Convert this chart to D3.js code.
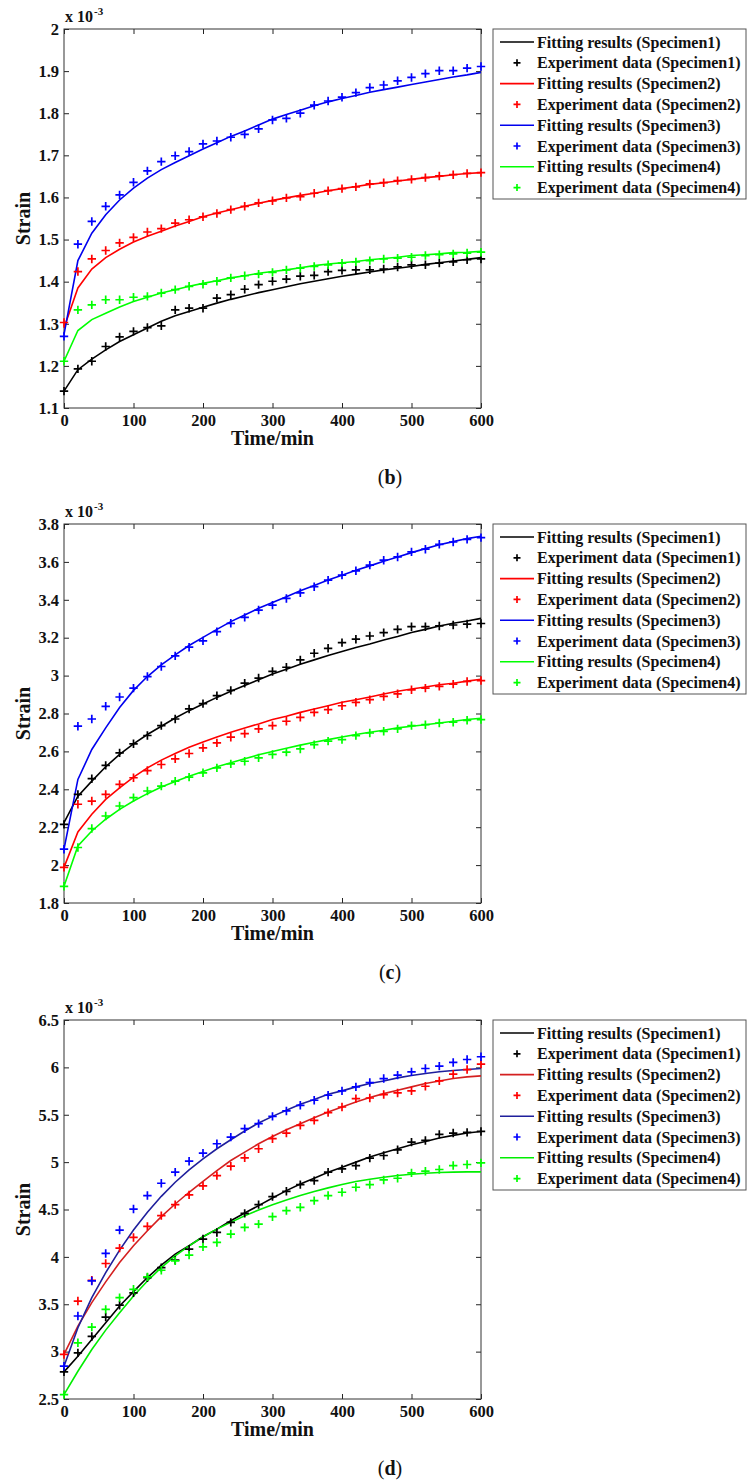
<!DOCTYPE html>
<html>
<head>
<meta charset="utf-8">
<script src="https://cdn.jsdelivr.net/npm/d3@7"></script>
<style>
  body { margin: 0; background: #fff; }
  svg { display: block; font-family: "Liberation Serif", "Times New Roman", serif; }
</style>
</head>
<body>
<svg id="chart" width="753" height="1484"></svg>
<script>
const time = [0, 20, 40, 60, 80, 100, 120, 140, 160, 180, 200, 220, 240, 260, 280, 300,
              320, 340, 360, 380, 400, 420, 440, 460, 480, 500, 520, 540, 560, 580, 600];

// panel (b)
const fitB1 = [1.140,1.191,1.216,1.238,1.258,1.274,1.290,1.306,1.319,1.329,1.339,1.349,1.358,1.366,1.374,1.381,1.388,1.395,1.401,1.407,1.413,1.418,1.423,1.428,1.432,1.436,1.441,1.445,1.449,1.453,1.457];
const expB1 = [1.140,1.193,1.211,1.246,1.269,1.282,1.291,1.295,1.333,1.337,1.337,1.361,1.369,1.382,1.393,1.401,1.406,1.413,1.415,1.424,1.427,1.428,1.428,1.430,1.435,1.440,1.440,1.444,1.447,1.452,1.454];
const fitB2 = [1.290,1.385,1.430,1.457,1.477,1.494,1.508,1.520,1.532,1.543,1.554,1.563,1.571,1.579,1.586,1.593,1.599,1.605,1.610,1.616,1.621,1.626,1.631,1.635,1.639,1.643,1.647,1.650,1.654,1.657,1.659];
const expB2 = [1.303,1.424,1.454,1.474,1.492,1.505,1.518,1.526,1.539,1.547,1.554,1.562,1.571,1.579,1.587,1.592,1.599,1.602,1.610,1.616,1.621,1.625,1.632,1.635,1.640,1.643,1.647,1.651,1.654,1.657,1.659];
const fitB3 = [1.275,1.450,1.515,1.559,1.594,1.622,1.646,1.666,1.683,1.699,1.715,1.730,1.745,1.758,1.772,1.786,1.797,1.807,1.818,1.827,1.835,1.842,1.850,1.856,1.862,1.868,1.874,1.880,1.886,1.891,1.897];
const expB3 = [1.270,1.489,1.543,1.579,1.606,1.636,1.663,1.685,1.699,1.709,1.727,1.734,1.743,1.750,1.763,1.784,1.788,1.800,1.819,1.829,1.838,1.849,1.861,1.867,1.877,1.885,1.894,1.901,1.901,1.907,1.911];
const fitB4 = [1.211,1.284,1.310,1.325,1.340,1.353,1.363,1.373,1.381,1.389,1.396,1.402,1.409,1.414,1.420,1.424,1.428,1.433,1.438,1.442,1.445,1.448,1.452,1.455,1.458,1.462,1.464,1.466,1.469,1.470,1.472];
const expB4 = [1.211,1.333,1.345,1.357,1.357,1.363,1.365,1.373,1.381,1.389,1.394,1.401,1.409,1.414,1.418,1.422,1.428,1.432,1.436,1.440,1.444,1.447,1.450,1.454,1.456,1.458,1.462,1.464,1.466,1.468,1.470];

// panel (c)
const fitC1 = [2.224,2.364,2.443,2.519,2.584,2.640,2.689,2.733,2.776,2.815,2.850,2.885,2.917,2.948,2.978,3.008,3.034,3.060,3.083,3.106,3.127,3.148,3.167,3.188,3.206,3.227,3.244,3.262,3.276,3.288,3.302];
const expC1 = [2.215,2.373,2.456,2.526,2.592,2.640,2.684,2.736,2.771,2.824,2.852,2.894,2.922,2.960,2.987,3.022,3.044,3.083,3.118,3.144,3.174,3.192,3.209,3.227,3.244,3.258,3.258,3.262,3.267,3.272,3.275];
const fitC2 = [1.988,2.175,2.268,2.347,2.408,2.464,2.513,2.554,2.589,2.622,2.650,2.676,2.701,2.724,2.745,2.768,2.785,2.806,2.824,2.841,2.859,2.873,2.887,2.903,2.917,2.929,2.940,2.952,2.960,2.971,2.981];
const expC2 = [1.988,2.321,2.338,2.373,2.426,2.461,2.499,2.531,2.561,2.589,2.619,2.645,2.675,2.694,2.719,2.736,2.759,2.780,2.806,2.820,2.841,2.859,2.873,2.890,2.904,2.925,2.934,2.943,2.955,2.969,2.974];
const fitC3 = [2.084,2.452,2.610,2.724,2.832,2.922,2.995,3.057,3.109,3.159,3.202,3.244,3.285,3.320,3.355,3.386,3.416,3.448,3.476,3.504,3.530,3.556,3.579,3.604,3.626,3.649,3.670,3.690,3.707,3.723,3.735];
const expC3 = [2.084,2.733,2.771,2.838,2.887,2.934,2.995,3.048,3.104,3.150,3.183,3.232,3.276,3.307,3.346,3.372,3.407,3.437,3.469,3.504,3.530,3.553,3.583,3.609,3.626,3.653,3.667,3.693,3.705,3.719,3.728];
const fitC4 = [1.888,2.101,2.180,2.242,2.294,2.338,2.377,2.412,2.441,2.469,2.494,2.519,2.540,2.561,2.582,2.599,2.617,2.633,2.648,2.662,2.676,2.689,2.701,2.712,2.724,2.733,2.741,2.750,2.759,2.768,2.775];
const expC4 = [1.888,2.093,2.193,2.259,2.312,2.356,2.391,2.417,2.443,2.464,2.487,2.513,2.534,2.548,2.566,2.584,2.596,2.613,2.636,2.654,2.662,2.683,2.697,2.706,2.719,2.736,2.741,2.750,2.754,2.764,2.768];

// panel (d)
const fitD1 = [2.786,2.952,3.128,3.305,3.481,3.633,3.782,3.912,4.029,4.117,4.212,4.293,4.382,4.463,4.541,4.622,4.699,4.770,4.830,4.894,4.947,5.000,5.053,5.098,5.141,5.183,5.218,5.254,5.282,5.307,5.324];
const expD1 = [2.786,2.987,3.160,3.365,3.490,3.620,3.780,3.887,3.966,4.082,4.188,4.258,4.364,4.459,4.551,4.636,4.692,4.763,4.805,4.894,4.929,4.964,5.042,5.070,5.130,5.211,5.229,5.293,5.307,5.314,5.324];
const fitD2 = [2.970,3.270,3.517,3.736,3.940,4.117,4.276,4.424,4.558,4.682,4.798,4.911,5.017,5.105,5.194,5.271,5.342,5.406,5.469,5.529,5.582,5.635,5.681,5.723,5.759,5.794,5.829,5.857,5.882,5.900,5.910];
const expD2 = [2.970,3.534,3.753,3.930,4.092,4.205,4.322,4.435,4.551,4.654,4.749,4.858,4.957,5.045,5.141,5.247,5.307,5.388,5.441,5.522,5.582,5.670,5.677,5.713,5.730,5.752,5.801,5.857,5.928,5.977,6.034];
const fitD3 = [2.846,3.252,3.570,3.834,4.071,4.283,4.470,4.639,4.788,4.918,5.035,5.141,5.236,5.328,5.413,5.483,5.547,5.610,5.660,5.716,5.752,5.794,5.829,5.857,5.889,5.914,5.935,5.953,5.967,5.977,5.988];
const expD3 = [2.846,3.376,3.746,4.036,4.283,4.505,4.647,4.777,4.894,5.010,5.095,5.194,5.264,5.353,5.406,5.483,5.540,5.600,5.653,5.706,5.752,5.794,5.840,5.882,5.918,5.953,5.988,6.013,6.052,6.083,6.112];
const fitD4 = [2.546,2.793,3.023,3.227,3.411,3.587,3.746,3.887,4.011,4.117,4.212,4.293,4.364,4.435,4.495,4.551,4.601,4.647,4.689,4.728,4.763,4.795,4.820,4.841,4.858,4.872,4.883,4.890,4.894,4.897,4.897];
const expD4 = [2.546,3.093,3.259,3.446,3.570,3.658,3.789,3.859,3.958,4.018,4.106,4.152,4.241,4.311,4.346,4.424,4.488,4.523,4.594,4.647,4.682,4.735,4.763,4.812,4.830,4.887,4.904,4.922,4.964,4.975,4.992];

const xTicks = [0, 100, 200, 300, 400, 500, 600];
const yTicksB = [1.1, 1.2, 1.3, 1.4, 1.5, 1.6, 1.7, 1.8, 1.9, 2.0];
const yTicksC = [1.8, 2.0, 2.2, 2.4, 2.6, 2.8, 3.0, 3.2, 3.4, 3.6, 3.8];
const yTicksD = [2.5, 3.0, 3.5, 4.0, 4.5, 5.0, 5.5, 6.0, 6.5];

const specimens = ["Specimen1", "Specimen2", "Specimen3", "Specimen4"];
const markerColors = ["#000000", "#ff0000", "#0000ff", "#00ff00"];

const panels = [
    { caption: "b", top: 29, ticks: yTicksB, fits: [fitB1, fitB2, fitB3, fitB4], exps: [expB1, expB2, expB3, expB4],
      lineColors: ["#000000", "#ff0000", "#0000ee", "#00ff00"] },
    { caption: "c", top: 524, ticks: yTicksC, fits: [fitC1, fitC2, fitC3, fitC4], exps: [expC1, expC2, expC3, expC4],
      lineColors: ["#000000", "#ff0000", "#0000ee", "#00ff00"] },
    { caption: "d", top: 1020, ticks: yTicksD, fits: [fitD1, fitD2, fitD3, fitD4], exps: [expD1, expD2, expD3, expD4],
      lineColors: ["#000000", "#d42020", "#1f1f9c", "#00ee00"] }
];

const svg = d3.select("#chart");
const left = 64, right = 481, plotH = 379;
const fmt = d3.format("~g");

const plus = (x, y, r) => `M${x - r},${y}h${2 * r}M${x},${y - r}v${2 * r}`;

panels.forEach(p => {
    const top = p.top, bottom = top + plotH;
    const g = svg.append("g");

    const x = d3.scaleLinear().domain([0, 600]).range([left, right]);
    const y = d3.scaleLinear().domain(d3.extent(p.ticks)).range([bottom, top]);

    // axes, MATLAB style with inward ticks on all sides
    const styleAxis = sel => {
        sel.select(".domain").remove();
        sel.selectAll(".tick line").attr("stroke", "#222");
        sel.selectAll("text").attr("font-size", 16.5).attr("font-weight", "bold").attr("fill", "#111")
            .attr("font-family", "'Liberation Serif', serif");
    };
    g.append("g").attr("transform", `translate(0,${bottom})`)
        .call(d3.axisBottom(x).tickValues(xTicks).tickSize(-5).tickPadding(6).tickFormat(fmt)).call(styleAxis);
    g.append("g").attr("transform", `translate(0,${top})`)
        .call(d3.axisTop(x).tickValues(xTicks).tickSize(-5).tickFormat("")).call(styleAxis);
    g.append("g").attr("transform", `translate(${left},0)`)
        .call(d3.axisLeft(y).tickValues(p.ticks).tickSize(-5).tickPadding(5).tickFormat(fmt)).call(styleAxis);
    g.append("g").attr("transform", `translate(${right},0)`)
        .call(d3.axisRight(y).tickValues(p.ticks).tickSize(-5).tickFormat("")).call(styleAxis);

    g.append("rect").attr("x", left).attr("y", top).attr("width", right - left).attr("height", plotH)
        .attr("fill", "none").attr("stroke", "#333").attr("stroke-width", 1);

    // exponent
    const ex = g.append("text").attr("x", left + 1).attr("y", top - 7)
        .attr("font-size", 16).attr("font-weight", "bold").attr("fill", "#111");
    ex.append("tspan").text("x 10");
    ex.append("tspan").attr("font-size", 11).attr("dy", -7).attr("dx", 1).text("-3");

    // fitted lines
    const line = d3.line().x((d, i) => x(time[i])).y(d => y(d));
    p.fits.forEach((f, k) => {
        g.append("path").datum(f).attr("d", line)
            .attr("fill", "none").attr("stroke", p.lineColors[k]).attr("stroke-width", 1.6);
    });

    // experiment markers
    p.exps.forEach((e, k) => {
        g.append("g").selectAll("path").data(e).join("path")
            .attr("d", (d, i) => plus(x(time[i]), y(d), 4.2))
            .attr("stroke", markerColors[k]).attr("stroke-width", 1.7).attr("fill", "none");
    });

    // axis titles
    g.append("text").attr("x", (left + right) / 2).attr("y", bottom + 37)
        .attr("text-anchor", "middle").attr("font-size", 20).attr("font-weight", "bold").attr("fill", "#111")
        .text("Time/min");
    g.append("text").attr("transform", `translate(30,${(top + bottom) / 2}) rotate(-90)`)
        .attr("text-anchor", "middle").attr("font-size", 20).attr("font-weight", "bold").attr("fill", "#111")
        .text("Strain");

    // caption
    const cap = g.append("text").attr("x", 390).attr("y", bottom + 76).attr("text-anchor", "middle")
        .attr("font-size", 20).attr("fill", "#111");
    cap.append("tspan").text("(");
    cap.append("tspan").attr("font-weight", "bold").text(p.caption);
    cap.append("tspan").text(")");

    // legend
    const lg = g.append("g").attr("transform", `translate(493,${top})`);
    lg.append("rect").attr("width", 253).attr("height", 170)
        .attr("fill", "#fff").attr("stroke", "#555").attr("stroke-width", 1);
    specimens.forEach((s, k) => {
        const yf = 13 + (2 * k) * 20.8, ye = 13 + (2 * k + 1) * 20.8;
        lg.append("line").attr("x1", 7).attr("x2", 41).attr("y1", yf).attr("y2", yf)
            .attr("stroke", p.lineColors[k]).attr("stroke-width", 1.6);
        lg.append("path").attr("d", plus(24, ye, 3.5))
            .attr("stroke", markerColors[k]).attr("stroke-width", 1.7);
        lg.append("text").attr("x", 44).attr("y", yf + 5.5).attr("font-size", 16).attr("font-weight", "bold")
            .attr("fill", "#111").text(`Fitting results (${s})`);
        lg.append("text").attr("x", 44).attr("y", ye + 5.5).attr("font-size", 16).attr("font-weight", "bold")
            .attr("fill", "#111").text(`Experiment data (${s})`);
    });
});
</script>
</body>
</html>
